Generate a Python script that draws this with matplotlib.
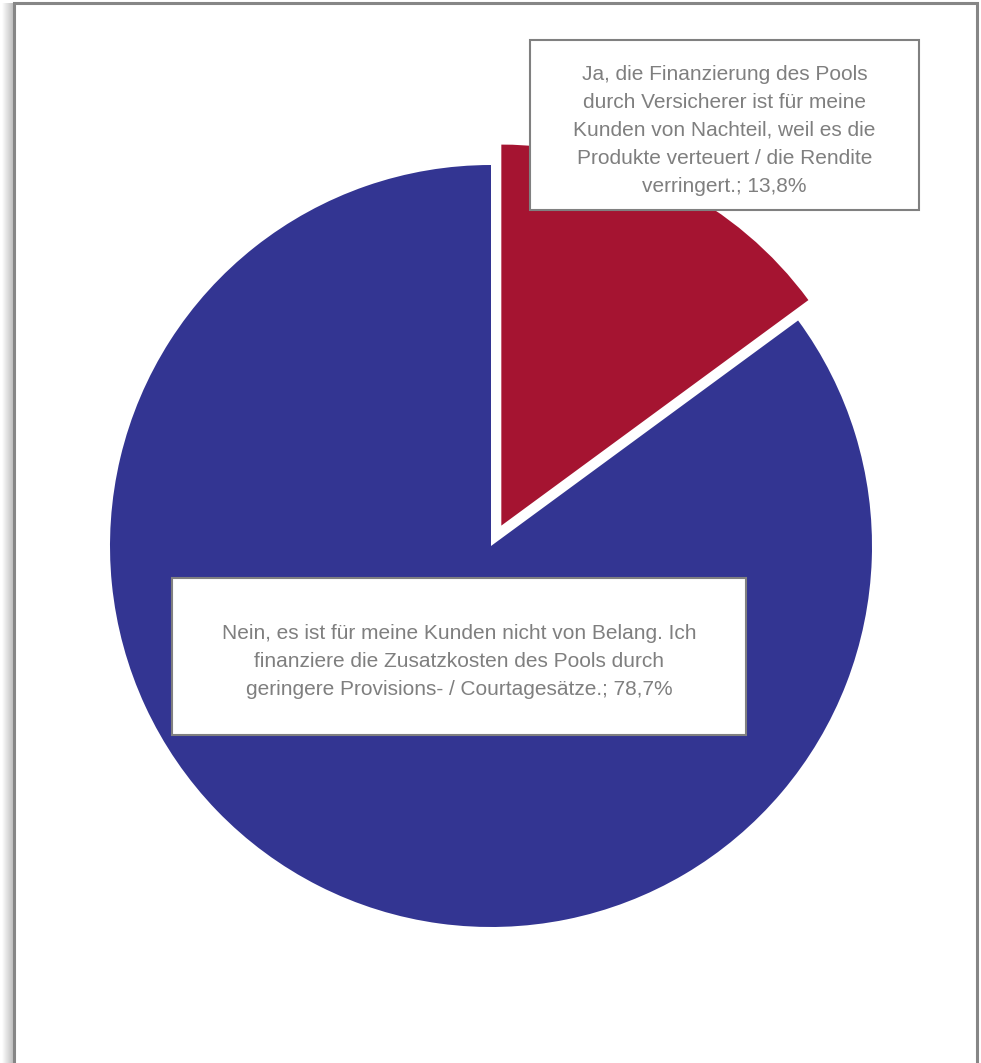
import matplotlib.pyplot as plt
from matplotlib.patches import Rectangle

labels = [
    'Ja, die Finanzierung des Pools\ndurch Versicherer ist für meine\nKunden von Nachteil, weil es die\nProdukte verteuert / die Rendite\nverringert.',
    'Nein, es ist für meine Kunden nicht von Belang. Ich\nfinanziere die Zusatzkosten des Pools durch\ngeringere Provisions- / Courtagesätze.',
]
values = [13.8, 78.7]
colors = ['#A51431', '#333592']
explode = [0.06, 0.0]

plt.rcParams['font.family'] = ['Liberation Sans', 'DejaVu Sans']

W, H = 981, 1063
fig = plt.figure(figsize=(W / 100, H / 100), dpi=100)

# frame with soft shadow on the left
for i in range(12):
    fig.add_artist(Rectangle(((14 - 12 + i) / W, 0), 2 / W, (H - 3) / H,
                             transform=fig.transFigure, facecolor='#000000',
                             alpha=0.012 * (i + 1), edgecolor='none', zorder=-2))
fig.add_artist(Rectangle((14 / W, -0.01), (977 - 14) / W, 1.01 - 3 / H,
                         transform=fig.transFigure, facecolor='white',
                         edgecolor='#868686', lw=2.2, zorder=-1))

cx, cy, r = 491, 546, 381
ax = fig.add_axes([0, 0, 1, 1])
ax.patch.set_visible(False)
ax.pie(values, colors=colors, explode=explode, startangle=90,
       counterclock=False, radius=1, wedgeprops=dict(linewidth=0))
ax.set_xlim(-cx / r, (W - cx) / r)
ax.set_ylim(-(H - cy) / r, cy / r)
ax.set_aspect('auto')
ax.axis('off')

# label boxes
boxes = [(530, 40, 919, 210), (172, 578, 746, 735)]
for (x0, y0, x1, y1), lab, v in zip(boxes, labels, values):
    fig.add_artist(Rectangle((x0 / W, 1 - y1 / H), (x1 - x0) / W, (y1 - y0) / H,
                             transform=fig.transFigure, facecolor='white',
                             edgecolor='#808080', lw=1.5, zorder=5))
    txt = lab + '; ' + f'{v:.1f}'.replace('.', ',') + '%'
    fig.text((x0 + x1) / 2 / W, 1 - ((y0 + y1) / 2 + 5) / H, txt, ha='center',
             va='center', fontsize=15, color='#7F7F7F', linespacing=1.6,
             zorder=6)

fig.savefig('out.png', dpi=100)
